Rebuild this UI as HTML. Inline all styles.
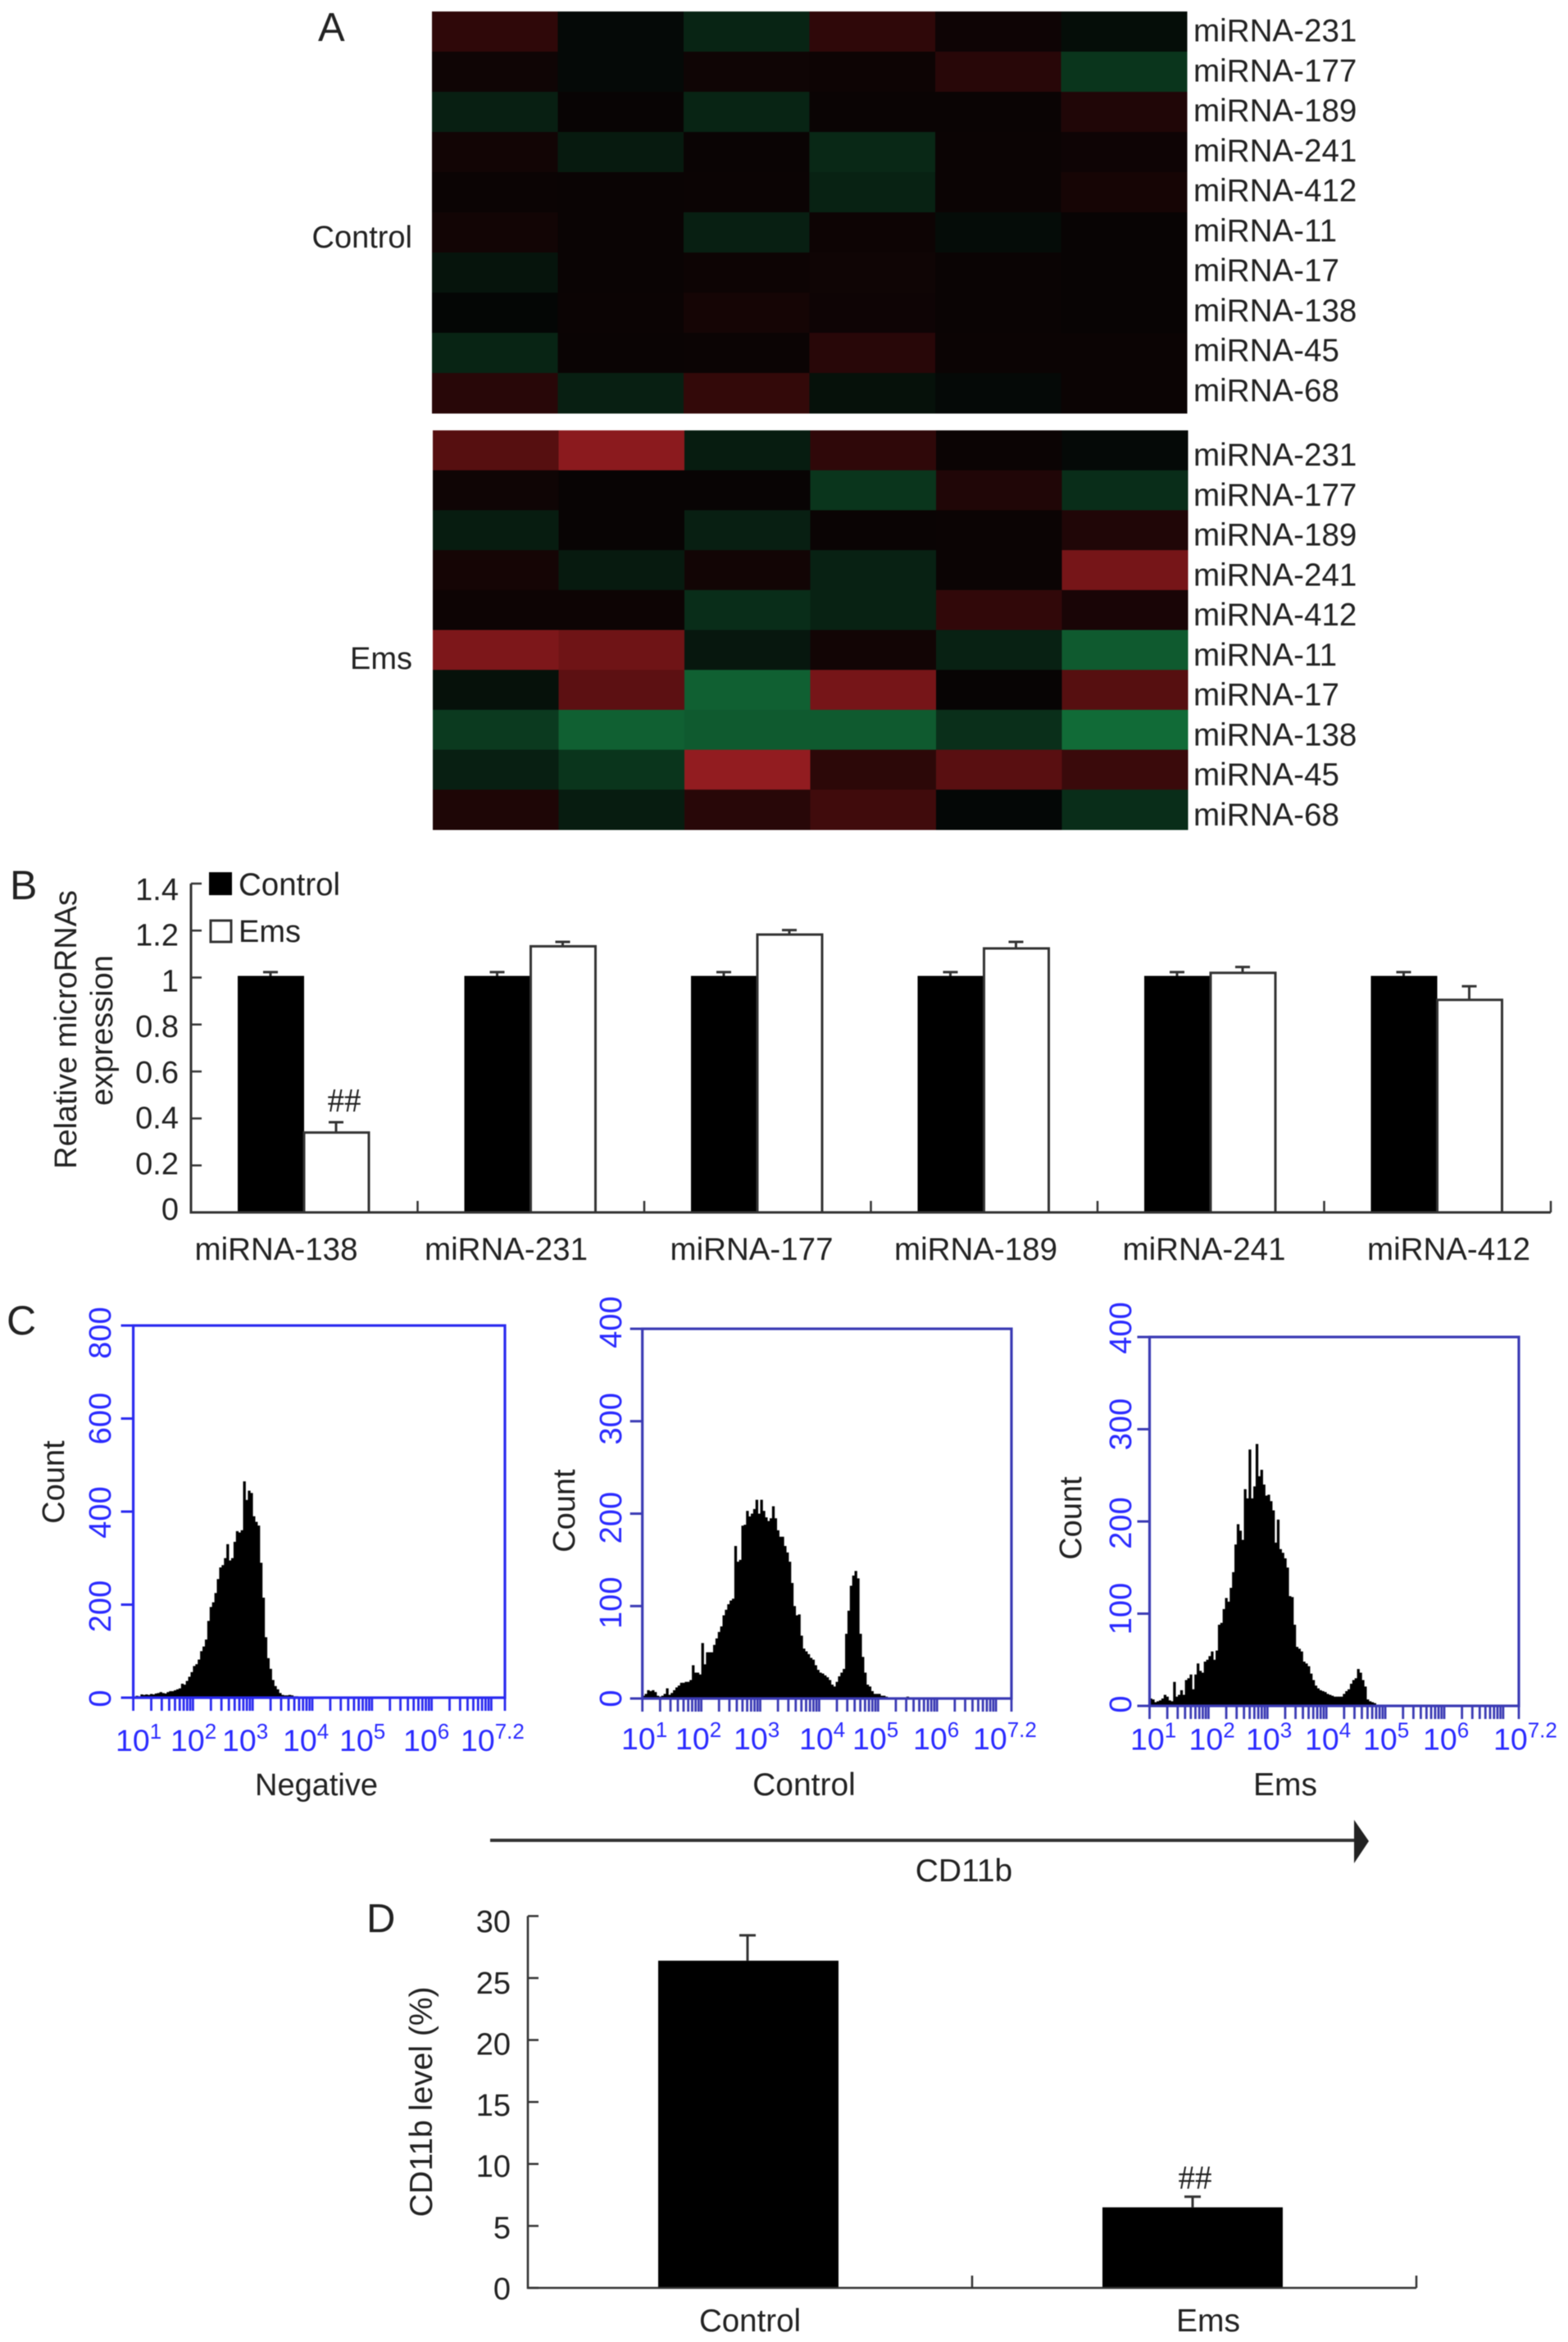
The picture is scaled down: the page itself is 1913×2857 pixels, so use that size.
<!DOCTYPE html>
<html lang="en">
<head>
<meta charset="utf-8">
<title>miRNA expression and CD11b figure</title>
<style>
html,body{margin:0;padding:0;background:#fff;width:1913px;height:2857px;overflow:hidden}
svg{display:block;filter:blur(.6px)}
text{font-family:"Liberation Sans",sans-serif;fill:#222;font-size:38px}
.blue text,text.blue{fill:#2a2aff}
.serif{font-family:"Liberation Serif",serif}
</style>
</head>
<body>
<svg id="figure" xmlns="http://www.w3.org/2000/svg" width="1913" height="2857" viewBox="0 0 1913 2857">
  <rect width="1913" height="2857" fill="#fff"/>

  <g id="panelA">
    <text x="388" y="50" style="font-size:49px">A</text>
    <text x="503" y="302" text-anchor="end">Control</text>
    <text x="503" y="816" text-anchor="end">Ems</text>
    <g id="hmControl"></g>
    <g id="hmEms"></g>
  </g>

  <g id="panelB">
    <text x="12" y="1097" style="font-size:50px">B</text>
    <text x="93" y="1256" text-anchor="middle" transform="rotate(-90 93 1256)">Relative microRNAs</text>
    <text x="137" y="1257" text-anchor="middle" transform="rotate(-90 137 1257)">expression</text>
    <rect x="255" y="1064" width="28" height="28" fill="#000"/>
    <text x="291" y="1092" style="font-size:38.5px">Control</text>
    <rect x="257" y="1123" width="25" height="26" fill="#fff" stroke="#333" stroke-width="3"/>
    <text x="291" y="1149">Ems</text>
    <g id="barsB"></g>
    <text class="serif" x="420" y="1356" text-anchor="middle" style="font-size:41px">##</text>
  </g>

  <g id="panelC">
    <text x="8" y="1628" style="font-size:50px">C</text>
    <text x="78" y="1808" text-anchor="middle" transform="rotate(-90 78 1808)">Count</text>
    <text x="386" y="2190" text-anchor="middle">Negative</text>
    <text x="701" y="1843" text-anchor="middle" transform="rotate(-90 701 1843)">Count</text>
    <text x="981" y="2190" text-anchor="middle" style="font-size:39px">Control</text>
    <text x="1319" y="1852" text-anchor="middle" transform="rotate(-90 1319 1852)">Count</text>
    <text x="1568" y="2190" text-anchor="middle" style="font-size:39px">Ems</text>
    <g id="histNeg"></g>
    <g id="histCtl"></g>
    <g id="histEms"></g>
    <line x1="598" y1="2245" x2="1655" y2="2245" stroke="#333" stroke-width="4"/>
    <polygon points="1652,2220 1670,2246 1652,2273" fill="#222"/>
    <text x="1176" y="2295" text-anchor="middle" style="font-size:39px">CD11b</text>
  </g>

  <g id="panelD">
    <text x="447" y="2357" style="font-size:49px">D</text>
    <text x="527" y="2564" text-anchor="middle" transform="rotate(-90 527 2564)" style="font-size:39px">CD11b level (%)</text>
    <g id="barsD"></g>
    <text class="serif" x="1458" y="2670" text-anchor="middle" style="font-size:41px">##</text>
  </g>
</svg>

<script>
/* ---------- heatmap data: signed level, + red, - green ---------- */
const heatmapRows = ['miRNA-231','miRNA-177','miRNA-189','miRNA-241','miRNA-412','miRNA-11','miRNA-17','miRNA-138','miRNA-45','miRNA-68'];
const heatControl = [
  [.30,-.05,-.30,.30,.07,-.08],
  [.08,-.05,.08,.06,.25,-.45],
  [-.25,.03,-.30,.04,.04,.20],
  [.10,-.20,.04,-.33,.05,.07],
  [.05,.04,.05,-.28,.05,.13],
  [.10,.04,-.25,.06,-.07,.03],
  [-.15,.04,.06,.08,.04,.03],
  [-.02,.05,.12,.07,.04,.03],
  [-.30,.04,.05,.25,.05,.05],
  [.25,-.25,.33,-.12,-.05,.05]
];
const heatEms = [
  [.58,.95,-.22,.30,.05,-.05],
  [.08,.03,.03,-.45,.20,-.38],
  [-.22,.03,-.25,.04,.05,.20],
  [.12,-.20,.10,-.27,.05,.80],
  [.06,.06,-.38,-.28,.32,.15],
  [.85,.75,-.18,.10,-.27,-.80],
  [-.12,.62,-.85,.80,.02,.58],
  [-.50,-.85,-.80,-.80,-.40,-.95],
  [-.25,-.45,1,.28,.60,.38],
  [.18,-.22,.25,.42,-.03,-.38]
];

/* ---------- panel B data ---------- */
const bCategories = ['miRNA-138','miRNA-231','miRNA-177','miRNA-189','miRNA-241','miRNA-412'];
const bControl = [1.007,1.007,1.007,1.007,1.007,1.007];
const bControlErr = [.016,.016,.016,.016,.016,.016];
const bEms = [.34,1.133,1.183,1.124,1.02,.905];
const bEmsErr = [.044,.019,.019,.028,.025,.058];
const bTicks = ['0','0.2','0.4','0.6','0.8','1','1.2','1.4'];

/* ---------- panel C data: event counts per 0.04-decade bin starting at 10^1 ---------- */
const countsNegative = [2,4,3,7,6,7,6,8,7,9,10,12,10,9,12,14,14,16,18,20,30,28,36,45,55,68,72,82,100,110,125,165,195,205,225,255,280,285,300,330,295,300,335,358,355,360,465,425,445,440,390,378,370,290,215,130,85,62,38,25,18,10,6,5,5,6,5,3,3,2,1];
const countsControl = [3,5,9,8,9,7,3,2,3,5,11,4,6,9,12,14,17,17,18,18,20,36,28,28,26,60,37,50,50,50,58,65,72,78,90,96,102,106,108,165,148,150,187,188,203,197,200,205,215,200,215,203,196,192,195,208,195,182,175,175,165,158,148,125,100,90,91,68,54,51,48,44,42,36,31,28,27,25,23,20,15,13,18,24,28,32,70,95,122,133,138,130,70,45,28,15,13,8,5,5,5,3,3,2,1,0,0,0,0,0,0,0,2,1];
const countsEms = [8,7,4,5,6,8,12,10,6,5,26,10,12,17,12,28,30,34,18,34,46,38,36,48,50,54,59,50,60,88,90,105,117,113,128,145,175,197,190,180,235,225,278,225,238,284,249,256,240,228,229,222,212,177,202,170,166,160,150,119,118,88,64,62,59,48,46,43,35,28,22,19,17,16,15,13,12,11,10,10,10,10,13,16,18,24,28,30,40,36,28,21,7,5,4,3,1];
const exponentLabels = ['1','2','3','4','5','6','7.2'];
const countTicksNegative = [0,200,400,600,800];
const countTicksGated = [0,100,200,300,400];

/* ---------- panel D data ---------- */
const dCategories = ['Control','Ems'];
const dValues = [26.4,6.5];
const dErrors = [2.05,.86];
const dTicks = ['0','5','10','15','20','25','30'];

/* ---------- helpers ---------- */
const NS = 'http://www.w3.org/2000/svg';
function mk(parent, tag, attrs, txt) {
  const el = document.createElementNS(NS, tag);
  for (const k in attrs) el.setAttribute(k, attrs[k]);
  if (txt !== undefined) el.textContent = txt;
  parent.appendChild(el);
  return el;
}
const INK = '#333';

/* ---------- heatmaps ---------- */
function heatColor(v) {
  const a = Math.abs(v);
  const base = 4;
  if (v >= 0) {
    const side = Math.pow(a, 1.5);
    return 'rgb(' + Math.round(base + 142 * a) + ',' + Math.round(base + 24 * side) + ',' + Math.round(base + 28 * side) + ')';
  }
  return 'rgb(' + Math.round(base + 14 * a) + ',' + Math.round(base + 108 * a) + ',' + Math.round(base + 54 * a) + ')';
}
function drawHeatmap(g, values, box, labelBaseline) {
  const rowH = (box.bottom - box.top) / values.length;
  const colW = (box.right - box.left) / values[0].length;
  values.forEach(function (row, r) {
    row.forEach(function (v, c) {
      const cell = mk(g, 'rect', {x: box.left + c * colW, y: box.top + r * rowH, width: colW + .5, height: rowH + .5, fill: heatColor(v)});
      
      
    });
    const label = mk(g, 'text', {x: 1456, y: labelBaseline + r * 48.75, style: 'font-size:38.6px'}, heatmapRows[r]);
    
    
  });
}
drawHeatmap(document.getElementById('hmControl'), heatControl, {left: 527, right: 1448, top: 14, bottom: 504}, 50.5);
drawHeatmap(document.getElementById('hmEms'), heatEms, {left: 528, right: 1449, top: 525, bottom: 1012}, 568);

/* ---------- grouped bar chart B ---------- */
(function () {
  const g = document.getElementById('barsB');
  const x0 = 233, x1 = 1892, y0 = 1479, perUnit = 286.5;
  const yS = function (v) { return y0 - v * perUnit; };
  const band = (x1 - x0) / bCategories.length;
  const labelNudge = [-34,-30,-7,-10,-8,14];

  bCategories.forEach(function (name, i) {
    const b = x0 + i * band;
    const darkBar = mk(g, 'rect', {x: b + 57, y: yS(bControl[i]), width: 81, height: y0 - yS(bControl[i]), fill: '#000'});
    
    
    const whiteBar = mk(g, 'rect', {x: b + 138, y: yS(bEms[i]), width: 79, height: y0 - yS(bEms[i]), fill: '#fff', stroke: INK, 'stroke-width': 3});
    
    

    [[b + 97, bControl[i], bControlErr[i]], [b + 177, bEms[i], bEmsErr[i]]].forEach(function (e) {
      const top = yS(e[1] + e[2]);
      const err = mk(g, 'path', {d: 'M' + e[0] + ' ' + yS(e[1]) + 'V' + top + 'M' + (e[0] - 9) + ' ' + top + 'H' + (e[0] + 9), stroke: INK, 'stroke-width': 3, fill: 'none'});
      
      
    });

    const lab = mk(g, 'text', {x: b + 138 + labelNudge[i], y: 1537, 'text-anchor': 'middle', style: 'font-size:38.5px'}, name);
    
    
  });

  for (let i = 1; i <= bCategories.length; i++) {
    const t = mk(g, 'line', {x1: x0 + i * band, x2: x0 + i * band, y1: y0, y2: y0 - 14, stroke: INK, 'stroke-width': 2.5});
    
    
  }

  bTicks.forEach(function (s) {
    const v = parseFloat(s);
    const t = mk(g, 'line', {x1: x0, x2: x0 + 13, y1: yS(v), y2: yS(v), stroke: INK, 'stroke-width': 2.5});
    
    
    const lab = mk(g, 'text', {x: 218, y: 1488 - v * 278.6, 'text-anchor': 'end', style: 'font-size:38px'}, s);
    
    
  });

  const axis = mk(g, 'path', {d: 'M' + x0 + ' ' + yS(1.4) + 'V' + y0 + 'H' + x1, stroke: INK, 'stroke-width': 3, fill: 'none'});
  
  
})();

/* ---------- flow histograms C ---------- */
function drawHistogram(g, counts, ticks, p) {
  const xS = function (lg) { return p.left + (lg - 1) * p.decade; };
  const yS = function (c) { return p.bottom - c * (p.bottom - p.top) / p.yMax; };
  const binW = 0.04;

  counts.forEach(function (c, i) {
    if (c <= 0) return;
    const xa = xS(1 + i * binW), xb = xS(1 + (i + 1) * binW);
    const bin = mk(g, 'rect', {x: xa, y: yS(c), width: xb - xa + .4, height: p.bottom - yS(c), fill: '#000'});
    
    
  });

  const box = mk(g, 'rect', {x: p.left, y: p.top, width: p.right - p.left, height: p.bottom - p.top, fill: 'none', stroke: p.line, 'stroke-width': 3.2});
  
  

  ticks.forEach(function (v, i) {
    const t = mk(g, 'line', {x1: p.left - 15, x2: p.left, y1: yS(v), y2: yS(v), stroke: p.line, 'stroke-width': 3});
    
    
    const cy = yS(v) + p.yNudge[i];
    const lab = mk(g, 'text', {x: p.yLabelX, y: cy, 'text-anchor': 'middle', transform: 'rotate(-90 ' + p.yLabelX + ' ' + cy + ')', style: 'font-size:38px;fill:#2a2aff'}, String(v));
    
    
  });

  for (let d = 1; d <= 7; d++) {
    for (let m = 1; m <= 9; m++) {
      const lg = d + Math.log10(m);
      if (xS(lg) > p.right) continue;
      const t = mk(g, 'line', {x1: xS(lg), x2: xS(lg), y1: p.bottom, y2: p.bottom + 16, stroke: p.line, 'stroke-width': 2.8});
      
      
    }
  }
  const endTick = mk(g, 'line', {x1: p.right, x2: p.right, y1: p.bottom, y2: p.bottom + 16, stroke: p.line, 'stroke-width': 2.8});
  
  

  exponentLabels.forEach(function (exp, i) {
    const lab = mk(g, 'text', {x: p.labelX[i] - 4, y: p.labelY, style: 'font-size:37.5px;fill:#2a2aff'}, '10');
    
    
    mk(lab, 'tspan', {dy: -15, style: 'font-size:26px;fill:#2a2aff'}, exp);
  });
}
drawHistogram(document.getElementById('histNeg'), countsNegative, countTicksNegative, {
  left: 162.6, right: 616, top: 1617, bottom: 2071, decade: 72.8, yMax: 800, line: '#2a2af0',
  yLabelX: 135, yNudge: [1,2,1,0,9], labelX: [145,212,275,349,418,496,566], labelY: 2136
});
drawHistogram(document.getElementById('histCtl'), countsControl, countTicksGated, {
  left: 783.7, right: 1234, top: 1621, bottom: 2072, decade: 71.9, yMax: 400, line: '#3a3ab4',
  yLabelX: 758, yNudge: [0,-4,5,-3,-8], labelX: [762,828,899,979,1044,1118,1191], labelY: 2134
});
drawHistogram(document.getElementById('histEms'), countsEms, countTicksGated, {
  left: 1402.5, right: 1853, top: 1631, bottom: 2081, decade: 71.9, yMax: 400, line: '#3a3ab4',
  yLabelX: 1380, yNudge: [-2,-6,2,-6,-11], labelX: [1383,1454.5,1524,1596,1667,1740,1826], labelY: 2134.5
});

/* ---------- bar chart D ---------- */
(function () {
  const g = document.getElementById('barsD');
  const x0 = 644, x1 = 1728, y0 = 2791, perUnit = 15.12;
  const yS = function (v) { return y0 - v * perUnit; };
  const band = (x1 - x0) / dCategories.length;
  const errNudge = [109,110];
  const labelNudge = [0,17];
  const labelSize = [38.5,39];

  dCategories.forEach(function (name, i) {
    const b = x0 + i * band;
    const bar = mk(g, 'rect', {x: b + 159, y: yS(dValues[i]), width: 220, height: y0 - yS(dValues[i]), fill: '#000'});
    
    
    const ex = b + 159 + errNudge[i];
    const top = yS(dValues[i] + dErrors[i]);
    const err = mk(g, 'path', {d: 'M' + ex + ' ' + yS(dValues[i]) + 'V' + top + 'M' + (ex - 10) + ' ' + top + 'H' + (ex + 10), stroke: INK, 'stroke-width': 3, fill: 'none'});
    
    
    const lab = mk(g, 'text', {x: b + band / 2 + labelNudge[i], y: 2844, 'text-anchor': 'middle', style: 'font-size:' + labelSize[i] + 'px'}, name);
    
    
  });

  for (let i = 1; i <= dCategories.length; i++) {
    const t = mk(g, 'line', {x1: x0 + i * band, x2: x0 + i * band, y1: y0, y2: y0 - 15, stroke: INK, 'stroke-width': 2.5});
    
    
  }

  dTicks.forEach(function (s) {
    const v = parseFloat(s);
    const t = mk(g, 'line', {x1: x0, x2: x0 + 13, y1: yS(v), y2: yS(v), stroke: INK, 'stroke-width': 2.5});
    
    
    const lab = mk(g, 'text', {x: 623, y: 2805 - v * 14.93, 'text-anchor': 'end', style: 'font-size:38px'}, s);
    
    
  });

  const axis = mk(g, 'path', {d: 'M' + x0 + ' ' + yS(30) + 'V' + y0 + 'H' + x1, stroke: INK, 'stroke-width': 2.6, fill: 'none'});
  
  
})();
</script>
</body>
</html>
